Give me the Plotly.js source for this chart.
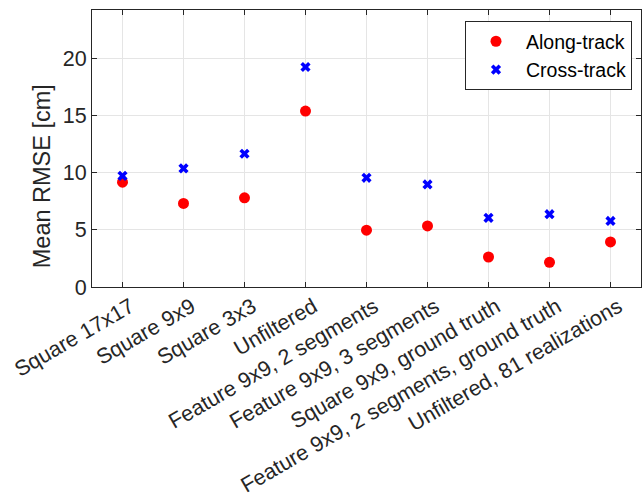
<!DOCTYPE html>
<html>
<head>
<meta charset="utf-8">
<script src="https://cdn.plot.ly/plotly-3.0.1.min.js"></script>
<style>
  html, body { margin: 0; padding: 0; background: #fff; }
  #chart { width: 644px; height: 502px; }
</style>
</head>
<body>
<div id="chart"></div>
<script>
// Filter configurations compared along the x axis
const methods = [
  "Square 17x17",
  "Square 9x9",
  "Square 3x3",
  "Unfiltered",
  "Feature 9x9, 2 segments",
  "Feature 9x9, 3 segments",
  "Square 9x9, ground truth",
  "Feature 9x9, 2 segments, ground truth",
  "Unfiltered, 81 realizations"
];

// Mean RMSE in centimetres
const alongTrack = [9.16, 7.30, 7.79, 15.37, 4.96, 5.34, 2.62, 2.16, 3.94];
const crossTrack = [9.71, 10.36, 11.64, 19.22, 9.54, 8.96, 6.04, 6.36, 5.77];

const yTicks = [0, 5, 10, 15, 20];

const idx = methods.map((_, i) => i);
const fontFam = '"Liberation Sans", Arial, Helvetica, sans-serif';
const axisColor = '#262626';

const traces = [
  {
    x: idx, y: alongTrack, name: 'Along-track',
    type: 'scatter', mode: 'markers',
    marker: { symbol: 'circle', size: 11, color: '#ff0000' }
  },
  {
    x: idx, y: crossTrack, name: 'Cross-track',
    type: 'scatter', mode: 'markers',
    marker: { symbol: 'x', size: 9, color: '#0000ff', line: { width: 0 } }
  }
];

const layout = {
  width: 644, height: 502,
  margin: { l: 92, r: 3, t: 10, b: 215 },
  paper_bgcolor: '#ffffff', plot_bgcolor: '#ffffff',
  font: { family: fontFam, color: axisColor, size: 21 },
  showlegend: true,
  legend: {
    x: 0.9836, xanchor: 'right', y: 0.96, yanchor: 'top',
    bordercolor: '#262626', borderwidth: 1, bgcolor: '#ffffff',
    font: { family: fontFam, size: 19.5, color: '#000000' },
    itemwidth: 50
  },
  xaxis: {
    range: [-0.5, 8.5],
    tickmode: 'array', tickvals: idx, ticktext: methods,
    tickangle: -30,
    tickfont: { family: fontFam, size: 21.5, color: axisColor },
    ticklabelshift: 8, ticklabelstandoff: -2,
    ticks: 'inside', ticklen: 5, tickcolor: axisColor, tickwidth: 1,
    showline: true, linecolor: axisColor, linewidth: 1, mirror: 'ticks',
    showgrid: true, gridcolor: '#e5e5e5', gridwidth: 1,
    zeroline: false, automargin: false
  },
  yaxis: {
    range: [0, 24.2],
    tickmode: 'array', tickvals: yTicks, ticktext: yTicks.map(String),
    tickfont: { family: fontFam, size: 21.5, color: axisColor },
    ticks: 'inside', ticklen: 5, tickcolor: axisColor, tickwidth: 1,
    showline: true, linecolor: axisColor, linewidth: 1, mirror: 'ticks',
    showgrid: true, gridcolor: '#e5e5e5', gridwidth: 1,
    zeroline: false, automargin: false
  },
  annotations: [{
    // y-axis label, placed as MATLAB draws it
    text: 'Mean RMSE [cm]', textangle: -90,
    xref: 'paper', yref: 'paper', x: -0.091, y: 0.40,
    xanchor: 'center', yanchor: 'middle', showarrow: false,
    font: { family: fontFam, size: 23.5, color: axisColor }
  }]
};

Plotly.newPlot('chart', traces, layout, { displayModeBar: false, staticPlot: true });
</script>
</body>
</html>
